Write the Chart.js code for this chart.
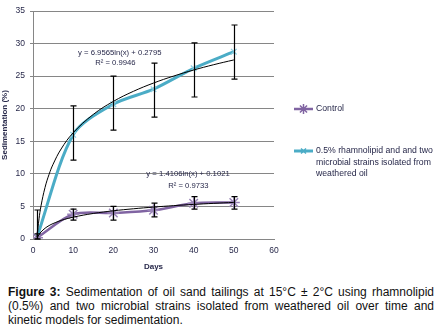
<!DOCTYPE html>
<html>
<head>
<meta charset="utf-8">
<script src="https://cdn.jsdelivr.net/npm/chart.js@4.4.0/dist/chart.umd.min.js"></script>
<style>
  body { margin: 0; background: #fff; width: 442px; height: 334px; overflow: hidden; position: relative; }
  #wrap { position: absolute; left: 0; top: 0; width: 442px; height: 272px; }
  #caption {
    position: absolute; left: 8px; top: 285px; width: 426px;
    font-family: "Liberation Sans", Arial, sans-serif; font-size: 12px; line-height: 14px;
    text-align: justify; color: #111;
  }
</style>
</head>
<body>
<div id="wrap"><canvas id="sedChart" width="442" height="272"></canvas></div>
<div id="caption"><b>Figure 3:</b> Sedimentation of oil sand tailings at 15°C ± 2°C using rhamnolipid (0.5%) and two microbial strains isolated from weathered oil over time and kinetic models for sedimentation.</div>
<script>
// measured days
const days = [1, 10, 20, 30, 40, 50];

// 0.5% rhamnolipid + two strains
const rhamValues = [0.3, 16.0, 20.7, 23.0, 26.2, 28.75];
const rhamLow    = [0.0, 12.1, 16.7, 18.7, 21.8, 24.55];
const rhamHigh   = [4.45, 20.45, 25.0, 27.0, 30.1, 32.85];

// control
const ctrlValues = [0.2, 3.8, 4.0, 4.4, 5.5, 5.6];
const ctrlLow    = [0.0, 2.9, 2.9, 3.4, 4.6, 4.6];
const ctrlHigh   = [0.8, 4.6, 5.0, 5.5, 6.5, 6.5];

// log trendlines
const trendDays = [1, 1.5, 2, 3, 4, 5, 7, 10, 15, 20, 25, 30, 35, 40, 45, 50];
const rhamTrend = [0.28, 3.10, 5.10, 7.92, 9.92, 11.47, 13.82, 16.30, 19.12, 21.12, 22.67, 23.94, 25.01, 25.94, 26.76, 27.49];
const ctrlTrend = [0.10, 0.67, 1.08, 1.65, 2.06, 2.37, 2.85, 3.35, 3.92, 4.33, 4.64, 4.90, 5.12, 5.31, 5.47, 5.62];

const yTicks = [0, 5, 10, 15, 20, 25, 30, 35];
const xTicks = [0, 10, 20, 30, 40, 50, 60];

const rhamColor = '#4BACC6';
const ctrlColor = '#8064A2';
const textColor = '#27284a';

function toXY(xs, ys) {
  return xs.map((x, i) => ({ x: x, y: ys[i] }));
}

// error bars + equations + legend on the right
const extras = {
  id: 'extras',
  afterDatasetsDraw(chart) {
    const ctx = chart.ctx;
    const xs = chart.scales.x, ys = chart.scales.y;
    ctx.save();
    ctx.strokeStyle = '#000';
    ctx.lineWidth = 1.2;
    [[rhamLow, rhamHigh], [ctrlLow, ctrlHigh]].forEach(([lo, hi]) => {
      days.forEach((d, i) => {
        const px = Math.round(xs.getPixelForValue(d)) + 0.5;
        const y1 = ys.getPixelForValue(lo[i]);
        const y2 = ys.getPixelForValue(hi[i]);
        ctx.beginPath();
        ctx.moveTo(px, y1); ctx.lineTo(px, y2);
        ctx.moveTo(px - 3, y1); ctx.lineTo(px + 3, y1);
        ctx.moveTo(px - 3, y2); ctx.lineTo(px + 3, y2);
        ctx.stroke();
      });
    });

    // trendline equations
    ctx.fillStyle = textColor;
    ctx.font = '7.7px "Liberation Sans", Arial, sans-serif';
    ctx.textAlign = 'center';
    ctx.textBaseline = 'middle';
    ctx.fillText('y = 6.9565ln(x) + 0.2795', xs.getPixelForValue(21.6), ys.getPixelForValue(28.55));
    ctx.fillText('R² = 0.9946', xs.getPixelForValue(20.5), ys.getPixelForValue(27.0));
    ctx.fillText('y = 1.4106ln(x) + 0.1021', xs.getPixelForValue(38.6), ys.getPixelForValue(10.0));
    ctx.fillText('R² = 0.9733', xs.getPixelForValue(38.7), ys.getPixelForValue(8.15));

    // legend
    const lx = chart.chartArea.right + 20;
    ctx.textAlign = 'left';
    ctx.font = '8.7px "Liberation Sans", Arial, sans-serif';
    const items = [
      { color: ctrlColor, width: 2.5, style: 'star', r: 5, y: 109, lines: ['Control'] },
      { color: rhamColor, width: 3, style: 'crossRot', r: 3.5, y: 151,
        lines: ['0.5% rhamnolipid and and two', 'microbial strains isolated from', 'weathered oil'] }
    ];
    items.forEach(it => {
      ctx.strokeStyle = it.color;
      ctx.lineWidth = it.width;
      ctx.beginPath();
      ctx.moveTo(lx, it.y); ctx.lineTo(lx + 19, it.y);
      ctx.stroke();
      ctx.lineWidth = 1.5;
      Chart.helpers.drawPoint(ctx, { pointStyle: it.style, radius: it.r, borderWidth: 1.5 }, lx + 9.5, it.y);
      ctx.fillStyle = textColor;
      it.lines.forEach((t, k) => ctx.fillText(t, lx + 22, it.y + k * 11.5));
    });
    ctx.restore();
  }
};

new Chart(document.getElementById('sedChart'), {
  type: 'line',
  data: {
    datasets: [
      {
        label: '0.5% rhamnolipid and and two microbial strains isolated from weathered oil',
        data: toXY(days, rhamValues),
        borderColor: rhamColor,
        backgroundColor: rhamColor,
        borderWidth: 3,
        tension: 0.3,
        pointStyle: 'crossRot',
        pointRadius: 4,
        pointBorderColor: '#8fd0e2',
        pointBorderWidth: 1.2,
        order: 3
      },
      {
        label: 'Control',
        data: toXY(days, ctrlValues),
        borderColor: ctrlColor,
        backgroundColor: ctrlColor,
        borderWidth: 2.5,
        tension: 0.3,
        pointStyle: 'star',
        pointRadius: 6,
        pointBorderColor: '#9a85b8',
        pointBorderWidth: 1.5,
        order: 2
      },
      {
        label: 'trend rham',
        data: toXY(trendDays, rhamTrend),
        borderColor: '#000',
        borderWidth: 1,
        tension: 0.4,
        pointRadius: 0,
        order: 1
      },
      {
        label: 'trend control',
        data: toXY(trendDays, ctrlTrend),
        borderColor: '#000',
        borderWidth: 1,
        tension: 0.4,
        pointRadius: 0,
        order: 1
      }
    ]
  },
  options: {
    responsive: false,
    animation: false,
    layout: { padding: { top: 11, right: 168, left: 0, bottom: 0 } },
    plugins: { legend: { display: false }, tooltip: { enabled: false } },
    scales: {
      x: {
        type: 'linear',
        min: 0, max: 60,
        afterBuildTicks: s => { s.ticks = xTicks.map(v => ({ value: v })); },
        grid: { display: false, drawTicks: true, tickLength: 4, tickColor: '#868686' },
        border: { color: '#868686', width: 1 },
        ticks: { color: textColor, font: { family: '"Liberation Sans", Arial', size: 8.5 }, padding: 3, maxRotation: 0 },
        title: { display: true, text: 'Days', color: textColor, font: { family: '"Liberation Sans", Arial', size: 8, weight: 'bold' }, padding: { top: 2, bottom: 0 } },
        afterFit: s => { s.height = 33; }
      },
      y: {
        min: 0, max: 35,
        afterBuildTicks: s => { s.ticks = yTicks.map(v => ({ value: v })); },
        grid: { color: '#868686', lineWidth: 1, tickLength: 3, tickColor: '#868686' },
        border: { color: '#868686', width: 1 },
        ticks: { color: textColor, font: { family: '"Liberation Sans", Arial', size: 8.5 }, padding: 5 },
        title: { display: true, text: 'Sedimentation (%)', color: textColor, font: { family: '"Liberation Sans", Arial', size: 8, weight: 'bold' }, padding: 0 },
        afterFit: s => { s.width = 33; }
      }
    }
  },
  plugins: [extras]
});
</script>
</body>
</html>
